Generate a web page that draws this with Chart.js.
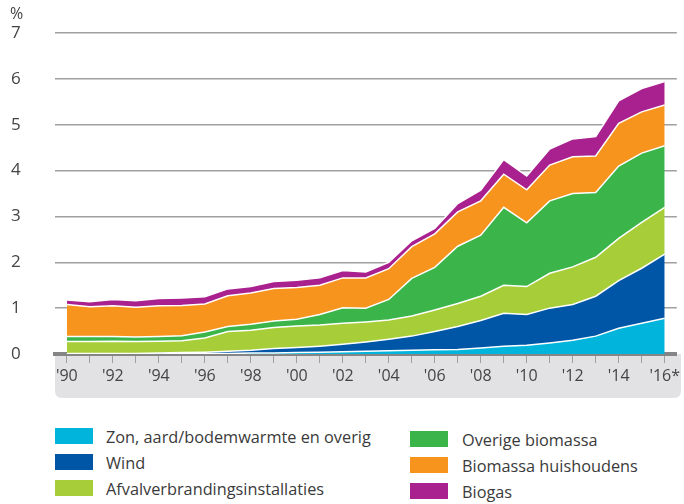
<!DOCTYPE html>
<html>
<head>
<meta charset="utf-8">
<script src="https://cdn.jsdelivr.net/npm/chart.js@4"></script>
<style>
  body { margin: 0; background: #fff; font-family: 'Open Sans', sans-serif; color: #3a3a3a; }
  #wrap { position: relative; width: 684px; height: 504px; }
  #chartBox { position: absolute; left: 0; top: 0; width: 684px; height: 411px; }
  #unit { position: absolute; left: 10px; top: 2px; font-size: 16px; color: #444; }
  .sw { position: absolute; width: 38px; height: 16px; }
  .lbl { position: absolute; font-size: 16.3px; line-height: 20px; white-space: nowrap; }
</style>
</head>
<body>
<div id="wrap">
  <div id="chartBox"><canvas id="chart"></canvas></div>
  <div id="unit">%</div>
  <div id="legend"></div>
</div>
<script>
const years = [1990,1991,1992,1993,1994,1995,1996,1997,1998,1999,2000,2001,2002,2003,2004,2005,2006,2007,2008,2009,2010,2011,2012,2013,2014,2015,2016];

const zon = [0,0,0,0,0,0.01,0.01,0.01,0.02,0.02,0.03,0.04,0.05,0.06,0.07,0.08,0.09,0.10,0.13,0.17,0.19,0.24,0.30,0.39,0.56,0.67,0.78];
const wind = [0.01,0.01,0.01,0.01,0.02,0.02,0.03,0.05,0.06,0.10,0.11,0.13,0.16,0.20,0.25,0.31,0.40,0.50,0.60,0.72,0.67,0.76,0.78,0.87,1.04,1.20,1.40];
const afval = [0.26,0.26,0.27,0.26,0.26,0.26,0.31,0.43,0.44,0.46,0.47,0.46,0.46,0.44,0.42,0.44,0.47,0.50,0.53,0.61,0.61,0.76,0.82,0.85,0.92,1.00,1.02];
const overig = [0.11,0.11,0.10,0.10,0.10,0.11,0.13,0.11,0.13,0.14,0.15,0.23,0.34,0.30,0.45,0.82,0.93,1.25,1.33,1.70,1.39,1.58,1.60,1.41,1.58,1.51,1.34];
const huishoudens = [0.70,0.65,0.67,0.65,0.67,0.66,0.61,0.67,0.68,0.71,0.69,0.64,0.65,0.66,0.67,0.69,0.73,0.75,0.75,0.72,0.72,0.78,0.80,0.80,0.93,0.90,0.89];
const biogas = [0.10,0.11,0.14,0.14,0.16,0.16,0.16,0.15,0.14,0.15,0.16,0.16,0.16,0.13,0.14,0.13,0.12,0.18,0.23,0.32,0.30,0.35,0.39,0.42,0.49,0.51,0.51];

const seriesNames = ['Zon, aard/bodemwarmte en overig', 'Wind', 'Afvalverbrandingsinstallaties', 'Overige biomassa', 'Biomassa huishoudens', 'Biogas'];
const seriesData = [zon, wind, afval, overig, huishoudens, biogas];
const seriesColors = ['#00b4dc', '#0056a6', '#a7ce39', '#3bb54a', '#f7941e', '#a9218e'];
const yTicks = [0, 1, 2, 3, 4, 5, 6, 7];

// gray band under the x axis
const axisBand = {
  id: 'axisBand',
  beforeDraw(chart) {
    const { ctx, chartArea } = chart;
    const x0 = chartArea.left, x1 = 681, y0 = chartArea.bottom, y1 = 398, r = 7;
    ctx.save();
    ctx.fillStyle = '#e2e2e4';
    ctx.beginPath();
    ctx.moveTo(x0, y0);
    ctx.lineTo(x1, y0);
    ctx.lineTo(x1, y1 - r);
    ctx.quadraticCurveTo(x1, y1, x1 - r, y1);
    ctx.lineTo(x0 + r, y1);
    ctx.quadraticCurveTo(x0, y1, x0, y1 - r);
    ctx.closePath();
    ctx.fill();
    ctx.restore();
  }
};

const datasets = seriesData.map((vals, i) => ({
  label: seriesNames[i],
  data: years.map((yr, j) => ({ x: yr, y: vals[j] })),
  backgroundColor: seriesColors[i],
  borderColor: '#ffffff',
  borderWidth: 1.5,
  pointRadius: 0,
  tension: 0,
  fill: i === 0 ? 'origin' : '-1'
}));

new Chart(document.getElementById('chart'), {
  type: 'line',
  data: { datasets },
  plugins: [axisBand],
  options: {
    responsive: true,
    maintainAspectRatio: false,
    animation: false,
    layout: { padding: { left: 11, top: 33, right: 0, bottom: 0 } },
    plugins: { legend: { display: false }, tooltip: { enabled: false } },
    scales: {
      x: {
        type: 'linear',
        min: 1989.484,
        max: 2016.528,
        bounds: 'data',
        z: 1,
        afterBuildTicks: (s) => { s.ticks = years.map(v => ({ value: v })); },
        afterFit: (s) => { s.height = 57; },
        border: { color: '#858585', width: 4 },
        grid: { drawOnChartArea: false, drawTicks: true, tickLength: 9, color: '#a0a0a0', lineWidth: 1 },
        ticks: {
          autoSkip: false,
          maxRotation: 0,
          padding: 4,
          color: '#444',
          font: { family: 'Open Sans', size: 16 },
          callback: (v) => v % 2 === 0 ? "'" + String(v).slice(2) + (v === 2016 ? '*' : '') : ''
        }
      },
      y: {
        stacked: true,
        min: 0,
        max: 7,
        afterBuildTicks: (s) => { s.ticks = yTicks.map(v => ({ value: v })); },
        afterFit: (s) => { s.width = 44; },
        border: { display: false },
        grid: { color: '#a0a0a0', lineWidth: 1.5, drawTicks: false },
        ticks: {
          crossAlign: 'far',
          padding: 0,
          color: '#444',
          font: { family: 'Open Sans', size: 17 }
        }
      }
    }
  }
});

// legend in two columns
const legendPos = [
  { sx: 55, sy: 428, tx: 106 },
  { sx: 55, sy: 454, tx: 106 },
  { sx: 55, sy: 480, tx: 106 },
  { sx: 410, sy: 431, tx: 462 },
  { sx: 410, sy: 457, tx: 462 },
  { sx: 410, sy: 483, tx: 462 }
];
const legend = document.getElementById('legend');
seriesNames.forEach((name, i) => {
  const p = legendPos[i];
  const sw = document.createElement('div');
  sw.className = 'sw';
  sw.style.left = p.sx + 'px';
  sw.style.top = p.sy + 'px';
  sw.style.background = seriesColors[i];
  legend.appendChild(sw);
  const t = document.createElement('div');
  t.className = 'lbl';
  t.style.left = p.tx + 'px';
  t.style.top = (p.sy - 1) + 'px';
  t.textContent = name;
  legend.appendChild(t);
});
</script>
</body>
</html>
